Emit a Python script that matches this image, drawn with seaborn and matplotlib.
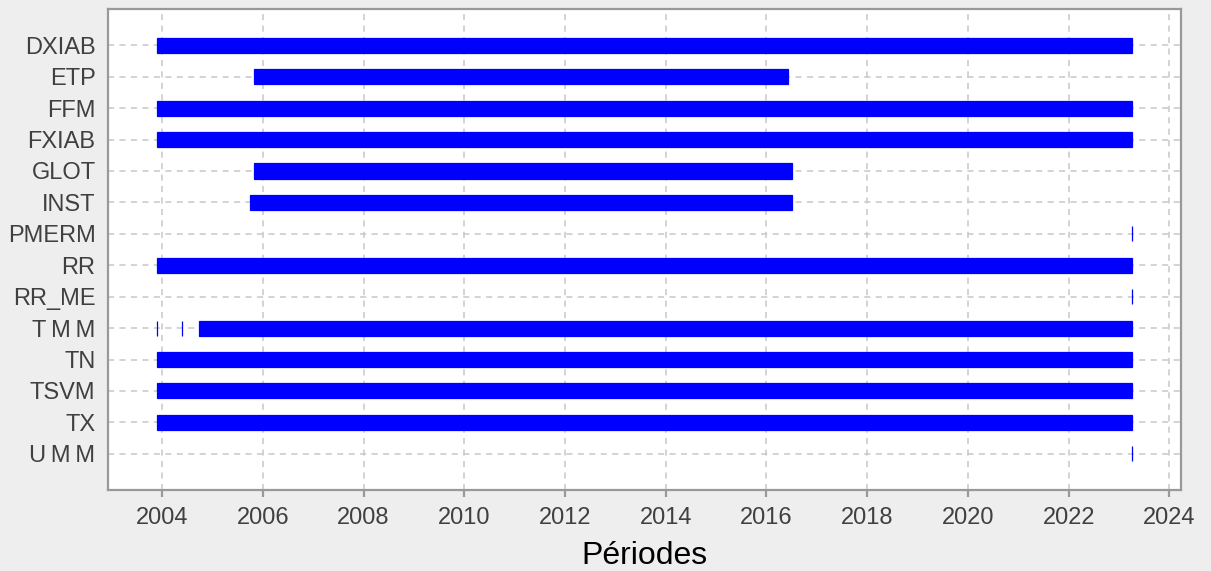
import pandas as pd
import seaborn as sns
import matplotlib.pyplot as plt
import matplotlib.dates as mdates

# variables (top -> bottom)
variables = ["DXIAB", "ETP", "FFM", "FXIAB", "GLOT", "INST", "PMERM",
             "RR", "RR_ME", "T\u2009M\u2009M", "TN", "TSVM", "TX", "U\u2009M\u2009M"]

# periods of availability, one row per segment
seg_var = ["DXIAB", "ETP", "FFM", "FXIAB", "GLOT", "INST", "PMERM",
           "RR", "RR_ME", "T\u2009M\u2009M", "T\u2009M\u2009M", "T\u2009M\u2009M",
           "TN", "TSVM", "TX", "U\u2009M\u2009M"]
seg_start = ["2003-11-26", "2005-10-29", "2003-11-26", "2003-11-26", "2005-10-29",
             "2005-09-30", "2023-04-05", "2003-11-26", "2023-04-05", "2003-11-27",
             "2004-05-26", "2004-09-26", "2003-11-26", "2003-11-26", "2003-11-26",
             "2023-04-05"]
seg_end = ["2023-04-05", "2016-06-06", "2023-04-05", "2023-04-05", "2016-07-04",
           "2016-07-04", "2023-04-06", "2023-04-05", "2023-04-06", "2003-11-28",
           "2004-05-27", "2023-04-05", "2023-04-05", "2023-04-05", "2023-04-05",
           "2023-04-06"]

df = pd.DataFrame({"var": seg_var,
                   "start": pd.to_datetime(seg_start),
                   "end": pd.to_datetime(seg_end)})
df["pos"] = df["var"].map({v: i for i, v in enumerate(variables)})
df["left"] = mdates.date2num(df["start"])
df["width"] = mdates.date2num(df["end"]) - df["left"]

sns.set_theme(style="whitegrid")
plt.rcParams["font.family"] = ["Liberation Sans", "DejaVu Sans"]

fig = plt.figure(figsize=(12.11, 5.71), dpi=100, facecolor="#eeeeee")
ax = fig.add_axes([0.0892, 0.142, 0.8860, 0.842])
ax.set_facecolor("white")

ax.barh(df["pos"], df["width"], left=df["left"], height=0.48,
        color="#0000ff", edgecolor="#0000ff", linewidth=0.9, zorder=3)

ax.set_yticks(range(len(variables)))
ax.set_yticklabels(variables)
ax.set_ylim(14.15, -1.15)

ax.xaxis_date()
ax.xaxis.set_major_locator(mdates.YearLocator(2))
ax.xaxis.set_major_formatter(mdates.DateFormatter("%Y"))
ax.set_xlim(mdates.date2num(pd.Timestamp("2002-12-05")),
            mdates.date2num(pd.Timestamp("2024-03-25")))

ax.grid(True, linestyle=(0, (4, 3.5)), color="#c8c8c8", linewidth=1.1, zorder=0)
ax.set_axisbelow(True)
for s in ax.spines.values():
    s.set_visible(True)
    s.set_color("#999999")
    s.set_linewidth(1.6)

ax.tick_params(axis="x", length=5, width=1.6, color="#999999", labelsize=17,
               labelcolor="#404040", pad=7, bottom=True)
ax.tick_params(axis="y", length=0, labelsize=17, labelcolor="#404040", pad=9)

ax.set_xlabel("Périodes", fontsize=23, color="black", labelpad=9)
ax.set_ylabel("")

plt.savefig("out.png", dpi=100, facecolor=fig.get_facecolor())
